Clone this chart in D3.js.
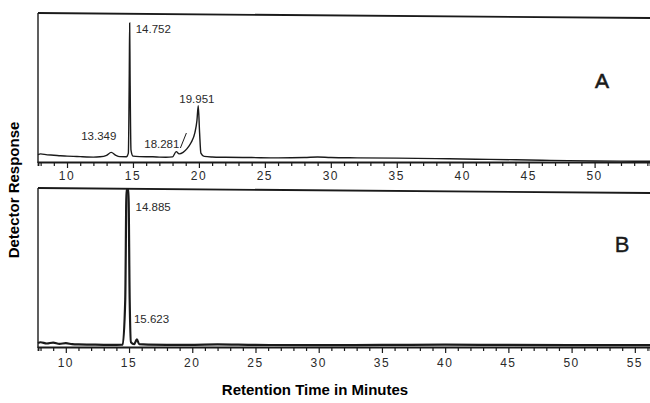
<!DOCTYPE html>
<html>
<head>
<meta charset="utf-8">
<script src="https://cdn.jsdelivr.net/npm/d3@7"></script>
<style>
  body { margin: 0; background: white; }
  svg { display: block; }
</style>
</head>
<body>
<script>
const W = 650, H = 403
const INK = '#1a1a1a'
const FONT_TICK = '"Liberation Sans", Arial, sans-serif'
const FONT_TITLE = '"Liberation Sans", Arial, sans-serif'

// chromatogram A: retention time (min) and detector response (0-100)
const timeA = [7.8, 8.0, 8.5, 9.0, 9.5, 10, 10.5, 11, 11.5, 12, 12.5, 13.0, 13.35, 13.7, 14.0, 14.5, 14.65, 14.72, 14.75, 14.78, 14.85, 15.0, 15.5, 16, 16.5, 17, 17.5, 18.0, 18.28, 18.5, 18.8, 19.1, 19.4, 19.7, 19.85, 19.95, 20.05, 20.15, 20.4, 21, 22, 24, 26, 28, 29, 30, 32, 35, 38, 40, 42, 44, 46, 48, 50, 52, 54.2]
const respA = [5.0, 5.5, 4.8, 4.6, 4.2, 4.0, 3.8, 3.6, 3.4, 3.3, 3.5, 4.5, 6.5, 4.5, 3.6, 3.5, 6, 60, 94, 60, 8, 4, 3.6, 3.5, 3.5, 3.3, 3.2, 3.5, 7.0, 5.5, 6.5, 9, 13, 20, 28, 38, 20, 6, 3.8, 3.4, 3.2, 3.0, 2.8, 3.0, 3.4, 3.0, 2.8, 2.6, 2.3, 2.0, 1.8, 1.5, 1.2, 0.9, 0.7, 0.6, 0.5]

// chromatogram B
const timeB = [7.8, 8.0, 8.5, 9.0, 9.5, 10, 10.5, 11, 12, 13, 14, 14.5, 14.7, 14.8, 14.885, 14.95, 15.05, 15.15, 15.4, 15.62, 15.8, 16.5, 18, 20, 22, 25, 30, 35, 40, 45, 50, 55, 56.2]
const respB = [2.5, 3, 2.2, 2.8, 2.0, 2.4, 1.8, 1.6, 1.5, 1.4, 1.4, 1.5, 30, 100, 100, 100, 30, 3, 1.8, 4.8, 1.8, 1.5, 1.4, 1.4, 1.6, 1.3, 1.2, 1.3, 1.5, 1.3, 1.2, 1.2, 1.2]

// peak labels
const peaksA = ['13.349', '14.752', '18.281', '19.951']
const peakRespA = [6.5, 94, 7.0, 38]
const peaksB = ['14.885', '15.623']
const peakRespB = [100, 4.8]

const tickLabels = [10, 15, 20, 25, 30, 35, 40, 45, 50, 55]

const svg = d3.select('body').append('svg').attr('width', W).attr('height', H)

function panel(cfg) {
  const x = d3.scaleLinear().domain(cfg.domain).range([38, 650])
  const y = d3.scaleLinear().domain([0, 100]).range([cfg.base, cfg.top])
  const g = svg.append('g')

  // frame: top line (slightly skewed as on the scan) and left edge
  g.append('line').attr('x1', 38).attr('y1', cfg.top - 1).attr('x2', 650).attr('y2', cfg.top + 4)
    .attr('stroke', INK).attr('stroke-width', 1.8)
  g.append('line').attr('x1', 38).attr('y1', cfg.top - 1).attr('x2', 38).attr('y2', cfg.base + 1)
    .attr('stroke', INK).attr('stroke-width', 1.4)

  // time axis, minor ticks every minute
  const minor = d3.range(Math.ceil(cfg.domain[0]), Math.floor(cfg.domain[1]) + 1)
  const ax = g.append('g').attr('transform', `translate(0,${cfg.base})`)
    .call(d3.axisBottom(x).tickValues(minor).tickSize(4).tickFormat(''))
  ax.select('.domain').attr('stroke', INK).attr('stroke-width', 1.8)
  ax.selectAll('.tick line').attr('stroke', INK).attr('stroke-width', 1.2)
    .attr('y2', d => d % 5 === 0 ? 6 : 4)
  g.selectAll('.tl').data(tickLabels.filter(d => x(d) < 648)).join('text')
    .attr('x', d => x(d)).attr('y', cfg.base + cfg.labelDy)
    .attr('text-anchor', 'middle').attr('font-family', FONT_TICK).attr('font-size', 12)
    .attr('letter-spacing', 1.5).attr('fill', '#2a2a2a').text(d => d)

  // trace
  const pts = cfg.time.map((t, i) => [t, cfg.resp[i]])
  g.append('path').datum(pts)
    .attr('d', d3.line().x(d => x(d[0])).y(d => y(d[1])).curve(d3.curveMonotoneX))
    .attr('fill', 'none').attr('stroke', INK).attr('stroke-width', cfg.lw)

  return { x, y, g }
}

const A = panel({ domain: [7.8, 54.2], top: 14, base: 162, labelDy: 18, time: timeA, resp: respA, lw: 1.4 })
const B = panel({ domain: [7.8, 56.2], top: 189, base: 347, labelDy: 20, time: timeB, resp: respB, lw: 2.2 })

function peakText(p, s, rx, ry) {
  p.g.append('text').attr('x', rx).attr('y', ry)
    .attr('font-family', FONT_TICK).attr('font-size', 11.5).attr('fill', '#2a2a2a').text(s)
}

// panel A labels
peakText(A, peaksA[0], A.x(+peaksA[0]) - 30, A.y(peakRespA[0]) - 12)
peakText(A, peaksA[1], A.x(+peaksA[1]) + 6, A.y(peakRespA[1]) + 10)
peakText(A, peaksA[2], A.x(+peaksA[2]) - 32, A.y(peakRespA[2]) - 4)
peakText(A, peaksA[3], A.x(+peaksA[3]) - 19, A.y(peakRespA[3]) - 3)
A.g.append('line').attr('x1', A.x(18.9) - 4).attr('y1', 148).attr('x2', A.x(18.9) + 2).attr('y2', 133)
  .attr('stroke', INK).attr('stroke-width', 1)

// panel B labels
peakText(B, peaksB[0], B.x(+peaksB[0]) + 8, B.y(peakRespB[0]) + 22)
peakText(B, peaksB[1], B.x(+peaksB[1]) - 3, B.y(peakRespB[1]) - 16)

svg.append('text').attr('x', 602).attr('y', 88).attr('text-anchor', 'middle')
  .attr('font-family', FONT_TITLE).attr('font-size', 21).attr('fill', INK)
  .attr('stroke', INK).attr('stroke-width', 0.6).text('A')
svg.append('text').attr('x', 622).attr('y', 252).attr('text-anchor', 'middle')
  .attr('font-family', FONT_TITLE).attr('font-size', 22).attr('fill', INK)
  .attr('stroke', INK).attr('stroke-width', 0.4).text('B')

// axis titles
svg.append('text').attr('x', 315).attr('y', 395).attr('text-anchor', 'middle')
  .attr('font-family', FONT_TITLE).attr('font-weight', 'bold').attr('font-size', 15)
  .attr('fill', '#000').text('Retention Time in Minutes')
svg.append('text').attr('transform', 'translate(19,190) rotate(-90)').attr('text-anchor', 'middle')
  .attr('font-family', FONT_TITLE).attr('font-weight', 'bold').attr('font-size', 15)
  .attr('fill', '#000').text('Detector Response')
</script>
</body>
</html>
